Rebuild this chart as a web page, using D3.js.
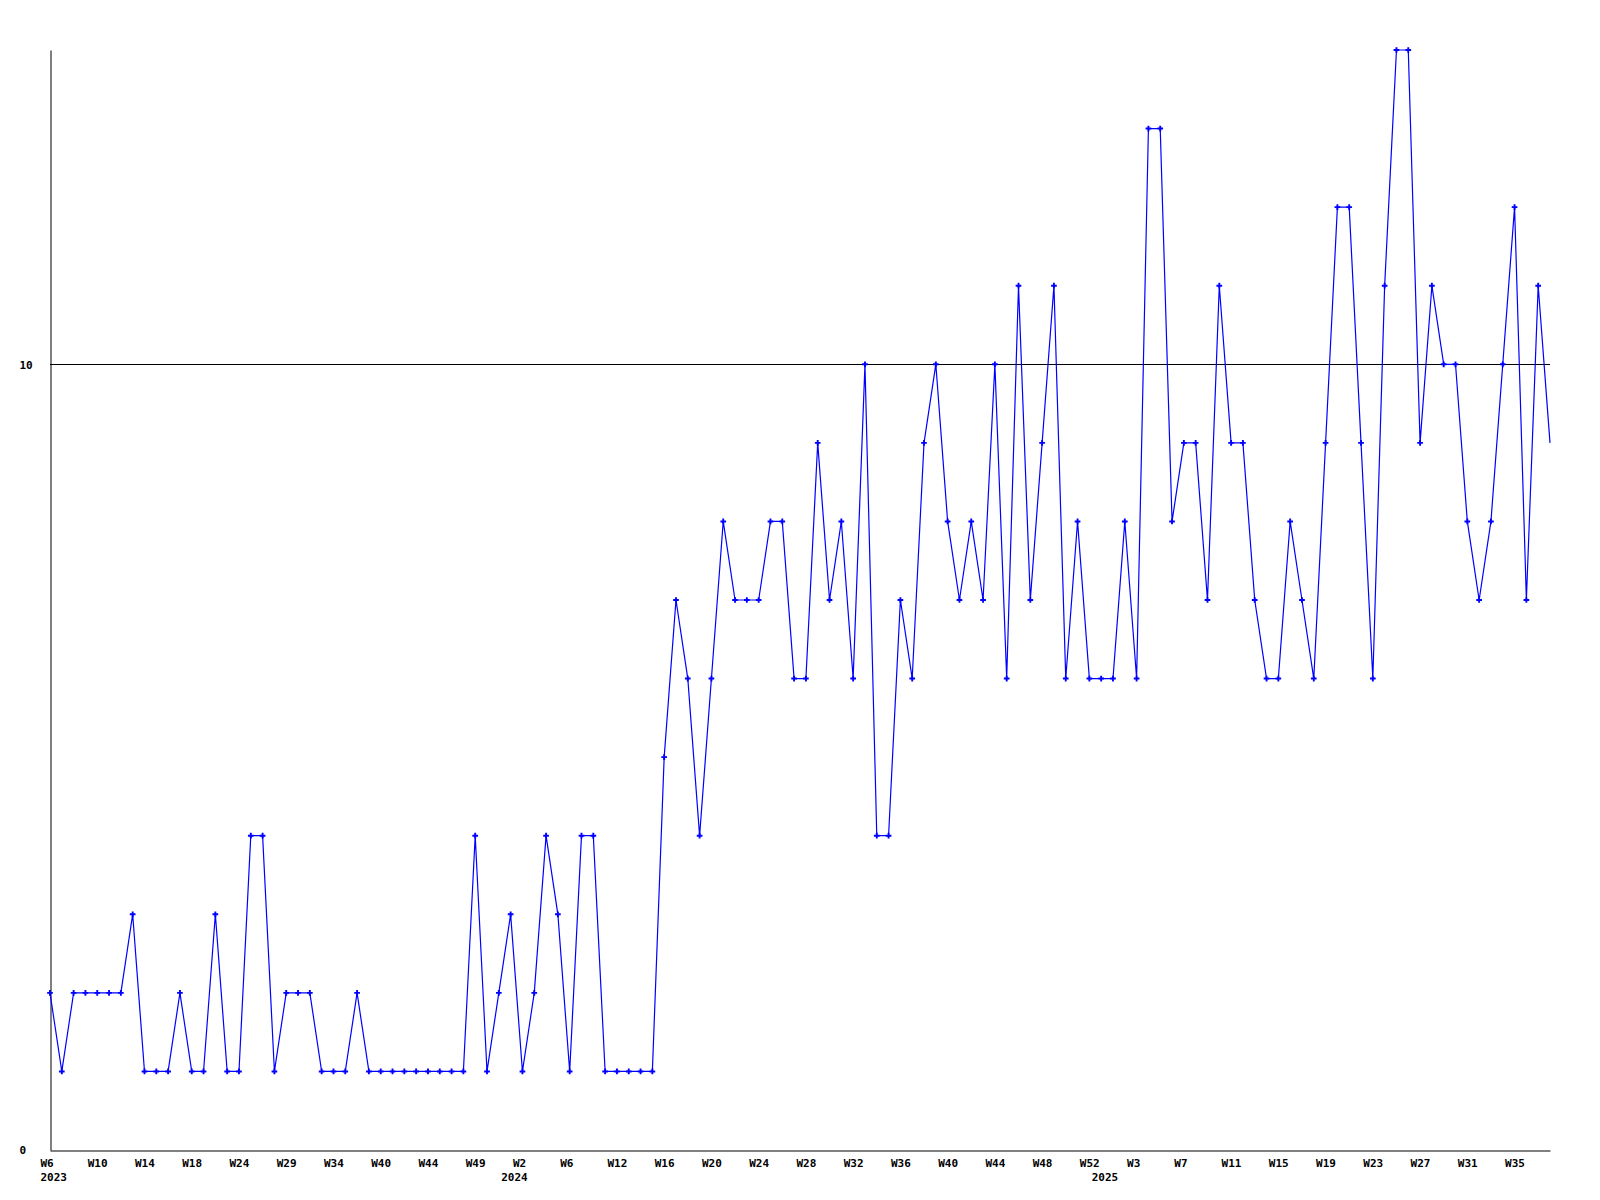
<!DOCTYPE html>
<html>
<head>
<meta charset="utf-8">
<script src="https://cdn.jsdelivr.net/npm/d3@7"></script>
<style>
  body { margin: 0; background: #fff; }
  svg { display: block; }
  text { font-family: "DejaVu Sans Mono", monospace; font-weight: bold; font-size: 11px; fill: #000; }
</style>
</head>
<body>
<svg width="1600" height="1200"></svg>
<script>
// weekly counts, one value per point
var values = [
  2, 1, 2, 2, 2, 2, 2, 3, 1, 1, 1, 2, 1, 1, 3, 1, 1, 4, 4, 1,
  2, 2, 2, 1, 1, 1, 2, 1, 1, 1, 1, 1, 1, 1, 1, 1, 4, 1, 2, 3,
  1, 2, 4, 3, 1, 4, 4, 1, 1, 1, 1, 1, 5, 7, 6, 4, 6, 8, 7, 7,
  7, 8, 8, 6, 6, 9, 7, 8, 6, 10, 4, 4, 7, 6, 9, 10, 8, 7, 8, 7,
  10, 6, 11, 7, 9, 11, 6, 8, 6, 6, 6, 8, 6, 13, 13, 8, 9, 9, 7, 11,
  9, 9, 7, 6, 6, 8, 7, 6, 9, 12, 12, 9, 6, 11, 14, 14, 9, 11, 10, 10,
  8, 7, 8, 10, 12, 7, 11, 9
];

// one week label every 4th point
var weekLabels = [
  "W6", "W10", "W14", "W18", "W24", "W29", "W34", "W40", "W44", "W49",
  "W2", "W6", "W12", "W16", "W20", "W24", "W28", "W32", "W36", "W40",
  "W44", "W48", "W52", "W3", "W7", "W11", "W15", "W19", "W23", "W27",
  "W31", "W35"
];
var labelStep = 4;

// year labels and the point where each year starts
var years = ["2023", "2024", "2025"];
var yearStart = [0, 39, 89];

var yTicks = [0, 10];
var yMax = 14;

var svg = d3.select("svg");
var plotLeft = 50, plotRight = 1550, plotTop = 50, plotBottom = 1150;

var x = d3.scaleLinear().domain([0, values.length - 1]).range([plotLeft, plotRight]);
var y = d3.scaleLinear().domain([0, yMax]).range([plotBottom, plotTop]);

svg.append("rect").attr("width", 1600).attr("height", 1200).attr("fill", "#fff");

// grid line at 10
svg.append("g")
  .selectAll("line")
  .data(yTicks.filter(function(d) { return d > 0; }))
  .enter()
  .append("line")
  .attr("x1", plotLeft).attr("x2", plotRight)
  .attr("y1", function(d) { return Math.round(y(d)) + 0.5; })
  .attr("y2", function(d) { return Math.round(y(d)) + 0.5; })
  .attr("stroke", "#000")
  .attr("stroke-width", 1);

// y axis
var yAxis = svg.append("g")
  .attr("transform", "translate(" + (plotLeft + 0.5) + ",0)")
  .call(d3.axisLeft(y).tickValues(yTicks).tickSize(0).tickSizeOuter(0).tickFormat(d3.format("d")));
yAxis.select(".domain").attr("stroke", "#000");
yAxis.selectAll("text")
  .attr("text-anchor", "start")
  .attr("x", 19 - plotLeft)
  .attr("dy", "0.35em");
yAxis.attr("font-family", null).attr("font-size", null);

// x axis with week labels
var tickIdx = weekLabels.map(function(d, i) { return i * labelStep; });
var xAxis = svg.append("g")
  .attr("transform", "translate(0," + (plotBottom + 0.5) + ")")
  .call(d3.axisBottom(x).tickValues(tickIdx).tickSize(0).tickSizeOuter(0)
    .tickFormat(function(d, i) { return weekLabels[i]; }));
xAxis.select(".domain").attr("stroke", "#000");
xAxis.selectAll("text")
  .attr("text-anchor", "start")
  .attr("dx", -10)
  .attr("y", 16)
  .attr("dy", 0);
xAxis.attr("font-family", null).attr("font-size", null);

// year labels under the week labels
var yearAxis = svg.append("g")
  .attr("transform", "translate(0," + (plotBottom + 0.5) + ")")
  .call(d3.axisBottom(x).tickValues(yearStart).tickSize(0)
    .tickFormat(function(d, i) { return years[i]; }));
yearAxis.select(".domain").remove();
yearAxis.selectAll("text")
  .attr("text-anchor", "start")
  .attr("dx", -10)
  .attr("y", 30)
  .attr("dy", 0);
yearAxis.attr("font-family", null).attr("font-size", null);

// data line
var line = d3.line()
  .x(function(d, i) { return x(i); })
  .y(function(d) { return y(d); });

svg.append("path")
  .datum(values)
  .attr("fill", "none")
  .attr("stroke", "#0000ff")
  .attr("stroke-width", 1.2)
  .attr("d", line);

// point markers (last point has none)
svg.append("g")
  .selectAll("path")
  .data(values.slice(0, values.length - 1))
  .enter()
  .append("path")
  .attr("d", d3.symbol(d3.symbolCross, 18))
  .attr("transform", function(d, i) { return "translate(" + x(i) + "," + y(d) + ")"; })
  .attr("fill", "#0000ff");
</script>
</body>
</html>
